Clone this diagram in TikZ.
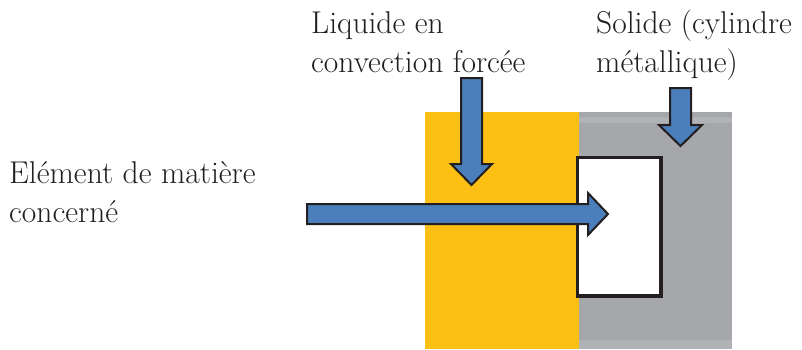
\documentclass[tikz,border=0pt]{standalone}
\usepackage{fontspec}
\definecolor{liq}{HTML}{FBC013}
\definecolor{sol}{HTML}{A6A7AA}
\definecolor{solband}{HTML}{B1B2B5}
\definecolor{flow}{HTML}{4A7FBB}
\definecolor{ink}{HTML}{231F20}
\tikzset{
  lbl/.style={anchor=base west, inner sep=0pt, align=left, font=\rmfamily\fontsize{31.5}{39}\selectfont, text=ink},
  blockarrow/.style={fill=flow, draw=ink, line width=2pt, line join=miter},
}
\begin{document}
\begin{tikzpicture}[x=1pt,y=-1pt]
\useasboundingbox (0,0) rectangle (802,349);
% liquid
\fill[liq] (425,112) rectangle (579,349);
% solid
\fill[sol] (579,112) rectangle (732,349);
\fill[solband] (579,117) rectangle (732,123);
\fill[solband] (579,340) rectangle (732,349);
% element of matter
\draw[ink, line width=3.2pt, fill=white] (577.5,157.5) rectangle (661,296);
% labels
\node[lbl] (liquide) at (311,72) {Liquide en\\convection forcée};
\node[lbl] (solide) at (596,72) {Solide (cylindre\\métallique)};
\node[lbl] (element) at (9,222) {Elément de matière\\concerné};
% arrows
\draw[blockarrow] (307,204) -- (588,204) -- (588,193) -- (608,214) -- (588,235) -- (588,224) -- (307,224) -- cycle;
\draw[blockarrow] (461,78) -- (482,78) -- (482,164) -- (492,164) -- (471.5,185) -- (451,164) -- (461,164) -- cycle;
\draw[blockarrow] (670,88) -- (691,88) -- (691,125) -- (702,125) -- (680.5,146) -- (659,125) -- (670,125) -- cycle;
\end{tikzpicture}
\end{document}
